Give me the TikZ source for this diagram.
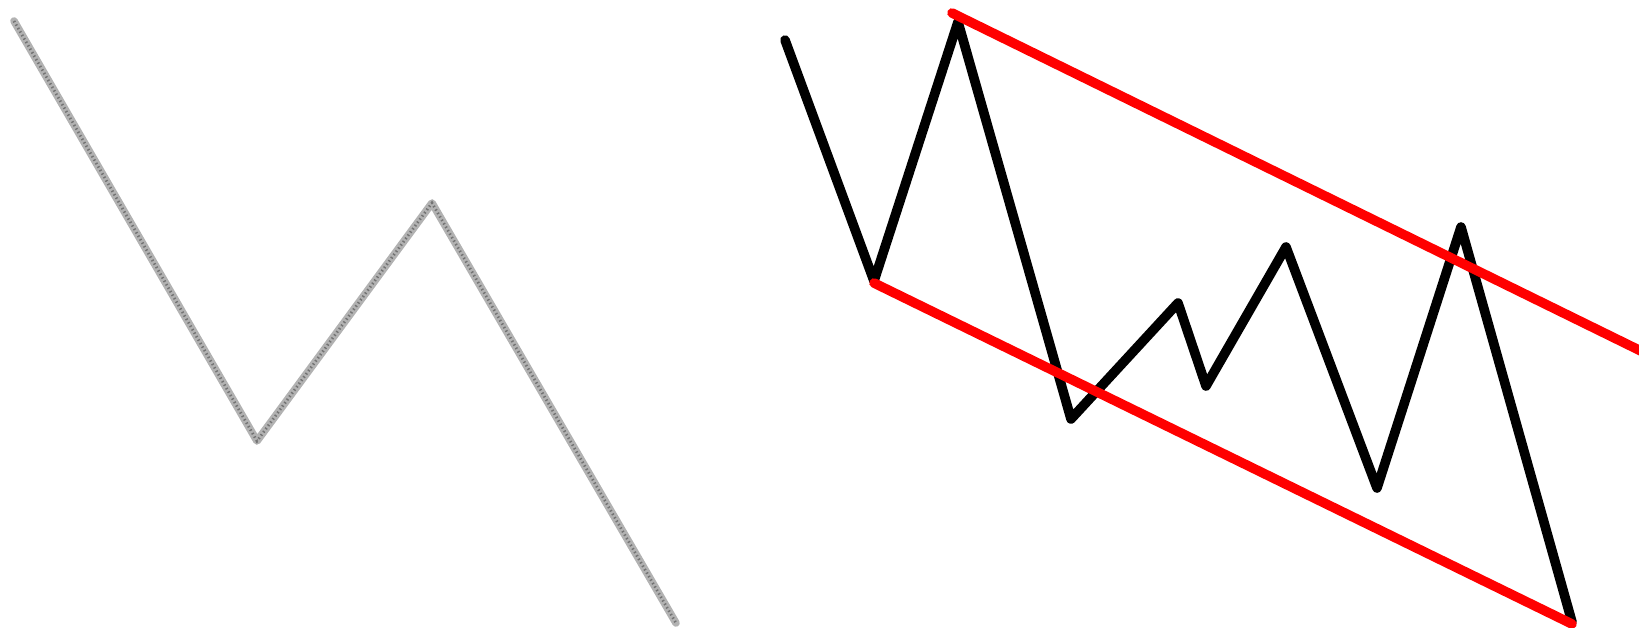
\documentclass[tikz,border=0pt]{standalone}
\begin{document}
\begin{tikzpicture}[x=0.5pt,y=-0.5pt,
  grayline/.style={draw=gray!60,line width=3.8pt,line cap=round,line join=round},
  grayhatch/.style={draw=black!55,line width=1.4pt,dash pattern=on 0.7pt off 1.3pt},
  blackline/.style={draw=black,line width=4.8pt,line cap=round,line join=round},
  redline/.style={draw=red,line width=4.8pt,line cap=round}]
\useasboundingbox (0,0) rectangle (1639,627);
% left gray zigzag
\coordinate (l1) at (14,21);
\coordinate (l2) at (257,441);
\coordinate (l3) at (432,203);
\coordinate (l4) at (676,623);
\draw[grayline] (l1) -- (l2) -- (l3) -- (l4);
\draw[grayhatch] (l1) -- (l2) -- (l3) -- (l4);
% right black zigzag
\coordinate (p1) at (785,40);
\coordinate (p2) at (874,281);
\coordinate (p3) at (958,22);
\coordinate (p4) at (1071,419);
\coordinate (p5) at (1178,303);
\coordinate (p6) at (1206,386);
\coordinate (p7) at (1286,247);
\coordinate (p8) at (1377,488);
\coordinate (p9) at (1461,227);
\coordinate (p10) at (1572,622);
\draw[blackline] (p1) -- (p2) -- (p3) -- (p4) -- (p5) -- (p6) -- (p7) -- (p8) -- (p9) -- (p10);
% red channel lines
\coordinate (r1) at (952,13);
\coordinate (r2) at (1645,353);
\coordinate (r3) at (874,283);
\coordinate (r4) at (1572,624);
\draw[redline] (r1) -- (r2);
\draw[redline] (r3) -- (r4);
\end{tikzpicture}
\end{document}
